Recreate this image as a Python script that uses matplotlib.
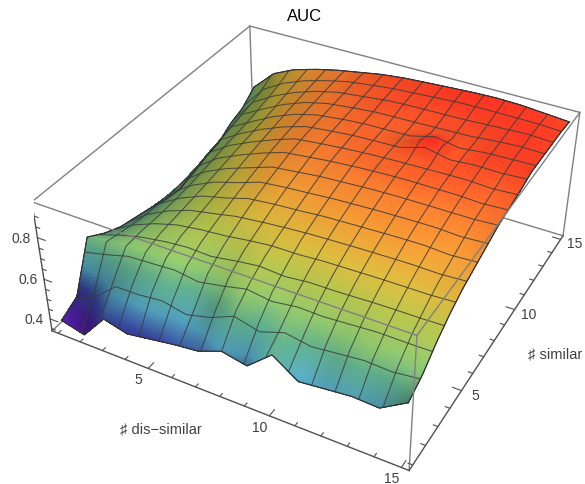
import numpy as np
import matplotlib
matplotlib.use('Agg')
import matplotlib.pyplot as plt
from matplotlib.colors import LinearSegmentedColormap
from mpl_toolkits.mplot3d import proj3d

plt.rcParams['font.family'] = ['Liberation Sans', 'DejaVu Sans']

dissimilar = np.arange(1, 16)
similar = np.arange(1, 16)
# AUC, one row per "# similar"
auc = np.array([
    [.382, .351, .476, .445, .463, .482, .495, .539, .514, .614, .532, .545, .557, .551, .626],
    [.426, .495, .583, .589, .601, .570, .601, .651, .620, .651, .639, .651, .664, .658, .664],
    [.652, .664, .677, .683, .689, .677, .695, .714, .702, .714, .714, .720, .727, .727, .727],
    [.601, .651, .689, .714, .727, .727, .746, .758, .752, .764, .765, .770, .771, .771, .777],
    [.564, .639, .689, .727, .746, .764, .777, .789, .796, .800, .804, .806, .808, .808, .815],
    [.545, .633, .695, .739, .764, .796, .808, .815, .825, .830, .834, .838, .840, .833, .840],
    [.526, .633, .702, .752, .783, .821, .833, .840, .850, .855, .860, .863, .865, .858, .865],
    [.501, .639, .714, .764, .802, .840, .852, .865, .871, .878, .882, .883, .883, .883, .890],
    [.488, .651, .727, .777, .821, .858, .871, .883, .892, .898, .902, .902, .902, .896, .902],
    [.507, .670, .739, .789, .833, .871, .883, .893, .900, .905, .908, .912, .915, .909, .915],
    [.532, .683, .746, .802, .846, .877, .890, .900, .902, .905, .956, .915, .927, .927, .934],
    [.545, .702, .758, .815, .858, .883, .896, .905, .905, .909, .915, .915, .927, .934, .934],
    [.589, .714, .777, .827, .865, .890, .902, .915, .921, .921, .921, .927, .934, .940, .934],
    [.614, .733, .796, .840, .871, .896, .909, .921, .927, .934, .940, .940, .940, .940, .934],
    [.670, .771, .821, .852, .877, .896, .915, .927, .934, .940, .946, .949, .946, .937, .927],
])
xticks_major = [5, 10, 15]
yticks_major = [5, 10, 15]
zticks_major = [0.4, 0.6, 0.8]

XMIN, XMAX = 0.72, 15.28
ZMIN, ZMAX = 0.338, 0.965
SUB = 16  # subdivisions per data cell, a mesh line every 14 of them

fig = plt.figure(figsize=(5.85, 4.85), dpi=100)
ax = fig.add_axes([34.2 / 585, -21.4 / 485, 555.4 / 585, 555.4 / 485], projection='3d', computed_zorder=False)
ax.set_xlim(XMIN, XMAX)
ax.set_ylim(XMIN, XMAX)
ax.set_zlim(ZMIN, ZMAX)
ax.set_axis_off()
ax.patch.set_alpha(0)
ax.view_init(elev=36.15, azim=-61.56, roll=-0.02)
ax.set_proj_type('persp', focal_length=0.44)
ax.set_box_aspect((1, 1, 0.401))


def refine(a):
    # piecewise linear resampling between the data cells so colours blend
    n = a.shape[0]
    old = np.arange(n)
    new = np.linspace(0, n - 1, (n - 1) * SUB + 1)
    tmp = np.array([np.interp(new, old, row) for row in a])
    return np.array([np.interp(new, old, col) for col in tmp.T]).T


Xc, Yc = np.meshgrid(dissimilar.astype(float), similar.astype(float))
X, Y, Z = refine(Xc), refine(Yc), refine(auc)

# height colours and a simple light
cmap = LinearSegmentedColormap.from_list('auc', [
    (0.00, '#5a18a8'), (0.10, '#4a22a4'), (0.20, '#3e50b5'), (0.32, '#5ab0cf'),
    (0.45, '#66bb98'), (0.55, '#98d272'), (0.65, '#bcca50'), (0.72, '#e0c040'),
    (0.80, '#f8a036'), (0.87, '#ff7f30'), (0.92, '#ff5528'), (0.97, '#ff3522'), (1.00, '#f52a20')])
frac = (auc - ZMIN) / (ZMAX - ZMIN)
dfy, dfx = np.gradient(frac * 0.4 * 14.56)
norm = np.sqrt(dfx ** 2 + dfy ** 2 + 1)
light = np.array([0.6, -0.2, 0.8])
light = light / np.linalg.norm(light)
lit = (-dfx * light[0] - dfy * light[1] + light[2]) / norm
shade = np.clip(0.42 + 0.72 * refine(lit), 0.66, 1.03)
colors = cmap((Z - ZMIN) / (ZMAX - ZMIN))
colors[..., :3] = np.clip(colors[..., :3] * shade[..., None], 0, 1)

# box, back part
GRAY = '#808080'
DARK = '#505050'
back = [((XMIN, XMAX, ZMIN), (XMIN, XMAX, ZMAX)), ((XMIN, XMAX, ZMAX), (XMAX, XMAX, ZMAX)),
        ((XMIN, XMAX, ZMAX), (XMIN, XMIN, ZMAX)), ((XMAX, XMAX, ZMIN), (XMAX, XMAX, ZMAX)),
        ((XMIN, XMAX, ZMIN), (XMAX, XMAX, ZMIN)), ((XMIN, XMAX, ZMIN), (XMIN, XMIN, ZMIN))]
for a, b in back:
    ax.plot(*zip(a, b), color=GRAY, lw=1.0, zorder=0)

ax.plot_surface(X, Y, Z, facecolors=colors, rstride=1, cstride=1, linewidth=0,
                antialiased=False, shade=False, zorder=1)

# mesh lines
for i in np.arange(0, X.shape[0], 14):
    ax.plot(X[i, :], Y[i, :], Z[i, :], color='#3c3c3c', lw=0.75, alpha=0.85, zorder=2)
    ax.plot(X[:, i], Y[:, i], Z[:, i], color='#3c3c3c', lw=0.75, alpha=0.85, zorder=2)
for i in (0, -1):
    ax.plot(X[i, :], Y[i, :], Z[i, :], color='#333333', lw=0.8, zorder=2)
    ax.plot(X[:, i], Y[:, i], Z[:, i], color='#333333', lw=0.8, zorder=2)

# box, front part
front = [((XMIN, XMIN, ZMAX), (XMAX, XMIN, ZMAX)), ((XMAX, XMIN, ZMAX), (XMAX, XMAX, ZMAX)),
         ((XMAX, XMIN, ZMIN), (XMAX, XMIN, ZMAX))]
for a, b in front:
    ax.plot(*zip(a, b), color=GRAY, lw=1.0, zorder=3)
axes_lines = [((XMIN, XMIN, ZMIN), (XMAX, XMIN, ZMIN)), ((XMAX, XMIN, ZMIN), (XMAX, XMAX, ZMIN)),
              ((XMIN, XMIN, ZMIN), (XMIN, XMIN, ZMAX))]
for a, b in axes_lines:
    ax.plot(*zip(a, b), color=DARK, lw=1.0, zorder=3)

# ticks
for v in range(1, 16):
    ln = 0.34 if v in xticks_major else 0.17
    ax.plot([v, v], [XMIN, XMIN + ln], [ZMIN, ZMIN], color=DARK, lw=0.8, zorder=3)
    ax.plot([XMAX, XMAX - ln], [v, v], [ZMIN, ZMIN], color=DARK, lw=0.8, zorder=3)
for v in np.arange(0.35, 0.91, 0.05):
    ln = 0.34 if any(abs(v - m) < 1e-6 for m in zticks_major) else 0.17
    ax.plot([XMIN, XMIN + ln], [XMIN, XMIN], [v, v], color=DARK, lw=0.8, zorder=3)

TXT = '#404040'
M = ax.get_proj()


def label(x, y, z, s, dx, dy):
    u, v, _ = proj3d.proj_transform(x, y, z, M)
    ax.annotate(s, (u, v), xytext=(dx, dy), textcoords='offset pixels', ha='center', va='center',
                fontsize=10, color=TXT, annotation_clip=False)


for v in xticks_major:
    label(v, XMIN, ZMIN, str(v), -10, -11)
for v in yticks_major:
    label(XMAX, v, ZMIN, str(v), 14, -4)
for v in zticks_major:
    label(XMIN, XMIN, v, '%.1f' % v, -16, 0)

fig.text(305 / 585, 1 - 16.5 / 485, 'AUC', ha='center', va='center', fontsize=12, color='black')
fig.text(161 / 585, 1 - 429 / 485, '\u266f dis\u2212similar', ha='center', va='center', fontsize=10.5, color=TXT)
fig.text(555.5 / 585, 1 - 354 / 485, '\u266f similar', ha='center', va='center', fontsize=10.5, color=TXT)

fig.savefig('out.png', dpi=100)
